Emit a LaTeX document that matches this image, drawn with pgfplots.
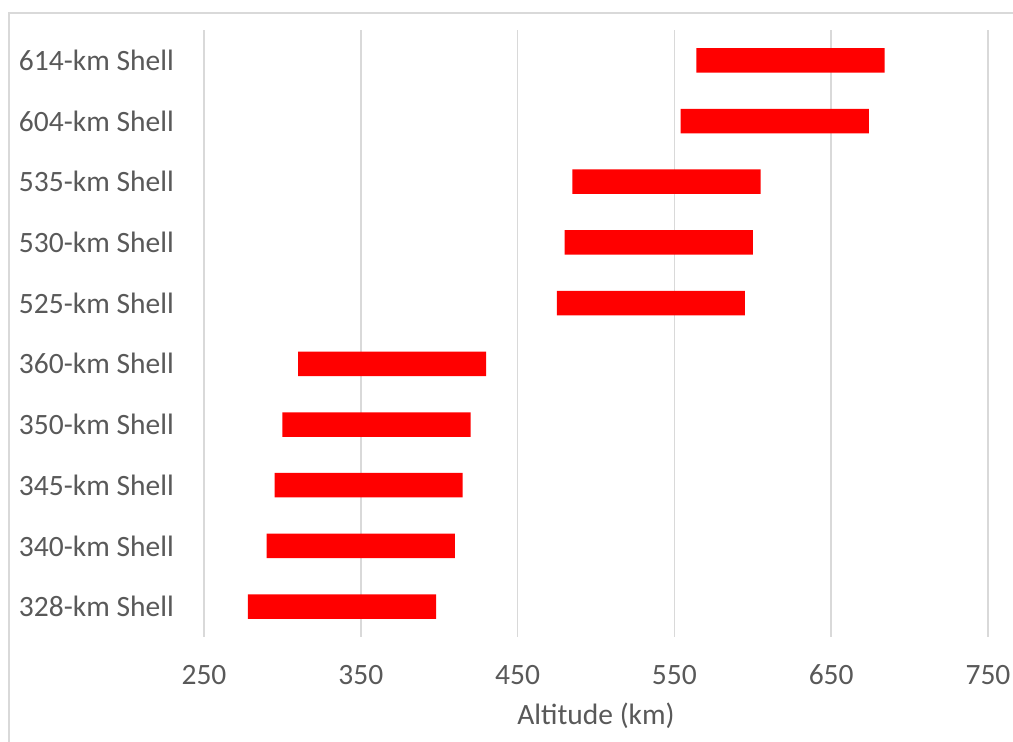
\documentclass[border=0pt]{standalone}
\usepackage{pgfplots}
\usepackage{pgfplotstable}
\pgfplotsset{compat=1.18}
\usepackage{fontspec}
\setmainfont{Carlito}
\definecolor{textgray}{HTML}{595959}
\definecolor{gridgray}{HTML}{D9D9D9}
\definecolor{barred}{HTML}{FF0000}
\pgfplotstableread{
y start len
9 564 120
8 554 120
7 485 120
6 480 120
5 475 120
4 310 120
3 300 120
2 295 120
1 290 120
0 278 120
}\shells
\begin{document}
\begin{tikzpicture}
\useasboundingbox (0,0) rectangle (1013pt,742pt);
\draw[gridgray, line width=1.5pt] (9pt,0) -- (9pt,729pt) -- (1013pt,729pt);
\begin{axis}[
  at={(204pt,105pt)}, anchor=south west,
  scale only axis, width=784pt, height=607pt,
  xmin=250, xmax=750, ymin=-0.5, ymax=9.5,
  xtick={250,350,...,750},
  ytick={0,...,9},
  yticklabels={328-km Shell,340-km Shell,345-km Shell,350-km Shell,360-km Shell,525-km Shell,530-km Shell,535-km Shell,604-km Shell,614-km Shell},
  /pgf/number format/assume math mode=true,
  xmajorgrids,
  major grid style={gridgray, line width=1.5pt},
  axis line style={draw=none},
  major tick length=0pt,
  tick style={draw=none},
  xbar stacked,
  bar width=24.5pt,
  tick label style={font=\fontsize{29.5}{35}\selectfont, text=textgray, inner sep=0pt},
  xticklabel style={anchor=base, yshift=-48pt},
  yticklabel style={anchor=east, xshift=-30pt},
  xlabel={Altitude (km)},
  xlabel style={font=\fontsize{29.5}{35}\selectfont, text=textgray, at={(axis description cs:0.5,0)}, anchor=base, yshift=-88pt, inner sep=0pt},
]
\addplot[draw=none, fill=none, forget plot] table[x=start, y=y] {\shells};
\addplot[fill=barred, draw=none] table[x=len, y=y] {\shells};
\end{axis}
\end{tikzpicture}
\end{document}
